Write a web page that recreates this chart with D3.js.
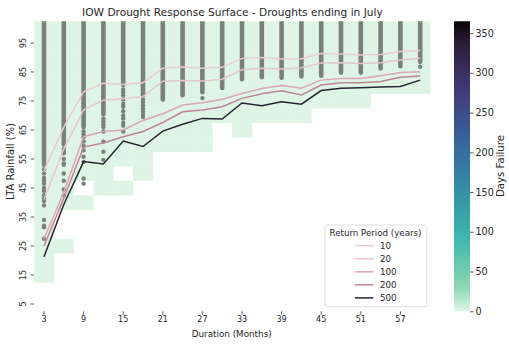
<!DOCTYPE html>
<html><head><meta charset="utf-8">
<script src="https://cdn.jsdelivr.net/npm/d3@7"></script>
<style>
body{margin:0;background:#fff;}
svg text{font-family:"DejaVu Sans",sans-serif;fill:#262626;}
</style>
</head><body>
<svg id="chart" width="509" height="345"></svg>
<script>
// ---------------- data ----------------
const durations = [3,6,9,12,15,18,21,24,27,30,33,36,39,42,45,48,51,54,57,60];
const rainfallRows = [100,95,90,85,80,75,70,65,60,55,50,45,40,35,30,25,20,15,10,5];
const yTickLabels = [5,15,25,35,45,55,65,75,85,95];
const xTickLabels = [3,9,15,21,27,33,39,45,51,57];
const colorbarTicks = [0,50,100,150,200,250,300,350];
const _ = null;
// days failure, rows = rainfallRows (100 -> 5), columns = durations (3 -> 60); null = no data
const daysFailure = [
  [0,0,0,0,0,0,0,0,0,0,0,0,0,0,0,0,0,0,0,0],
  [0,0,0,0,0,0,0,0,0,0,0,0,0,0,0,0,0,0,0,0],
  [0,0,0,0,0,0,0,0,0,0,0,0,0,0,0,0,0,0,0,0],
  [0,0,0,0,0,0,0,0,0,0,0,0,0,0,0,0,0,0,0,0],
  [0,0,0,0,0,0,0,0,0,0,0,0,0,0,0,0,0,0,0,0],
  [0,0,0,0,0,0,0,0,0,0,0,0,0,0,0,0,0,_,_,_],
  [0,0,0,0,0,0,0,0,0,0,0,0,0,0,_,_,_,_,_,_],
  [0,0,0,0,0,0,0,0,0,_,0,_,_,_,_,_,_,_,_,_],
  [0,0,0,0,0,0,0,0,0,_,_,_,_,_,_,_,_,_,_,_],
  [0,0,0,0,0,0,_,_,_,_,_,_,_,_,_,_,_,_,_,_],
  [0,0,0,0,_,0,_,_,_,_,_,_,_,_,_,_,_,_,_,_],
  [0,0,_,0,0,_,_,_,_,_,_,_,_,_,_,_,_,_,_,_],
  [0,0,0,_,_,_,_,_,_,_,_,_,_,_,_,_,_,_,_,_],
  [0,_,_,_,_,_,_,_,_,_,_,_,_,_,_,_,_,_,_,_],
  [0,_,_,_,_,_,_,_,_,_,_,_,_,_,_,_,_,_,_,_],
  [0,0,_,_,_,_,_,_,_,_,_,_,_,_,_,_,_,_,_,_],
  [0,_,_,_,_,_,_,_,_,_,_,_,_,_,_,_,_,_,_,_],
  [0,_,_,_,_,_,_,_,_,_,_,_,_,_,_,_,_,_,_,_],
  [_,_,_,_,_,_,_,_,_,_,_,_,_,_,_,_,_,_,_,_],
  [_,_,_,_,_,_,_,_,_,_,_,_,_,_,_,_,_,_,_,_]
];
// simulated droughts: lowest LTA rainfall (%) of the dense band at each duration
const denseLow = [53,60,66,70.5,80.5,77,75.5,77,78,79.5,82.5,83.2,83,83.5,83.7,84.8,84.8,86.2,87,88.5];
// individual simulated droughts below the dense band
const sparsePoints = [
  [51.5,50,48.5,47.5,46.5,45,44,42.5,41.5,40.5,39,34,32,31.5,27.5],
  [58.5,57.5,57,55,53.5,53,50,47.5,44.5,42.5],
  [64.5,63.5,62.5,61,59.5,58,55.8,54,48.3,46.5],
  [69,68,67,66,64.5,61,57.5,54.7],
  [79,78,77,75.5,74,73,71.5,70,69,67.5,66.5,64.5],
  [75.5,74.5,73.5,72.5,71.5,70.5,69.5],
  [],[],[76],[],[],[],[],[],[],[],[],[],[],[86.8]
];
const returnPeriods = [10,20,100,200,500];
const rp10  = [51,66,78.2,81.1,80.7,81.3,86.3,86.7,86.3,86.6,89.7,90.0,89.5,89.6,91.4,91.2,90.9,91.0,92.1,92.4];
const rp20  = [41,58.5,72.0,75.3,75.8,76.5,81.8,82.1,81.9,82.5,85.8,86.3,86.0,86.5,88.1,88.2,87.9,88.2,89.1,89.7];
const rp100 = [27.5,43.5,62.7,64.5,65.0,68.3,70.6,73.6,74.4,75.6,77.6,79.3,80.3,79.4,82.2,82.8,82.8,83.7,84.8,85.1];
const rp200 = [25,41.5,59.1,60.5,62.7,64.5,67.6,71.3,71.9,73.0,75.9,77.5,78.5,77.1,80.5,81.3,81.3,81.7,83.2,83.6];
const rp500 = [21.3,39.3,54.1,53.3,61.2,59.3,64.6,67.0,69.0,68.8,74.3,73.4,74.7,73.9,78.6,79.4,79.6,79.8,80.0,82.2];
const rpSeries = [rp10, rp20, rp100, rp200, rp500];

// ---------------- styles ----------------
const rpColors = ["#ebcccd","#e8c5c9","#dba6b0","#c08494","#252330"];
const makoStops = ["#0B0405","#2E1E3B","#413D7B","#37659E","#348FA7","#40B7AD","#8AD9B1","#DEF5E5"];
const makoPos = [0,0.083,0.25,0.417,0.583,0.75,0.917,1];
const mako = d3.scaleLinear().domain(makoPos).range(makoStops).interpolate(d3.interpolateRgb);
const vmax = 365;
const color = v => mako(1 - v / vmax); // mako reversed

const svg = d3.select("#chart");
const pLeft = 34.1, pRight = 430.1, pTop = 21.25, pBottom = 311.25;

const x = d3.scaleBand().domain(durations).range([pLeft, pRight]);
const xc = d => x(d) + x.bandwidth() / 2;
const yBand = d3.scaleBand().domain(rainfallRows).range([pTop, pBottom]);
const y = d3.scaleLinear().domain([2.5, 102.5]).range([pBottom, pTop]);

const defs = svg.append("defs");
defs.append("clipPath").attr("id","plotclip")
  .append("rect").attr("x", pLeft).attr("y", pTop).attr("width", pRight - pLeft).attr("height", pBottom - pTop);

// heatmap cells
const cells = [];
rainfallRows.forEach((r, i) => durations.forEach((d, j) => {
  const v = daysFailure[i][j];
  if (v !== null) cells.push({r, d, v});
}));
svg.append("g").selectAll("rect").data(cells).join("rect")
  .attr("x", c => x(c.d)).attr("y", c => yBand(c.r))
  .attr("width", x.bandwidth() + 0.3).attr("height", yBand.bandwidth() + 0.3)
  .attr("fill", c => color(c.v));

// simulated drought points
const dotColor = "#7b807c";
const gDots = svg.append("g").attr("clip-path", "url(#plotclip)");
gDots.selectAll("line.band").data(durations).join("line").attr("class","band")
  .attr("x1", xc).attr("x2", xc)
  .attr("y1", (d, i) => y(denseLow[i])).attr("y2", pTop - 5)
  .attr("stroke", dotColor).attr("stroke-width", 4.6).attr("stroke-linecap", "round");
const sparse = [];
durations.forEach((d, i) => sparsePoints[i].forEach(v => sparse.push({d, v})));
gDots.selectAll("circle").data(sparse).join("circle")
  .attr("cx", p => xc(p.d)).attr("cy", p => y(p.v)).attr("r", 2.2)
  .attr("fill", dotColor);

// return period lines
const line = d3.line().x((v, i) => xc(durations[i])).y(v => y(v));
svg.append("g").selectAll("path").data(rpSeries).join("path")
  .attr("d", line).attr("fill", "none")
  .attr("stroke", (s, i) => rpColors[i]).attr("stroke-width", 1.5);

// text fitting helper
const fitText = (sel, w) => {
  sel.each(function() {
    const len = this.getComputedTextLength();
    const fs = parseFloat(d3.select(this).style("font-size"));
    if (len > 0) d3.select(this).style("font-size", (fs * w / len) + "px");
  });
};

// axes
const xAxis = svg.append("g").attr("transform", `translate(0,${pBottom})`)
  .call(d3.axisBottom(x).tickValues(xTickLabels).tickSize(3.5).tickPadding(2));
xAxis.select(".domain").remove();
xAxis.selectAll("line").attr("stroke", "#333").attr("stroke-width", 0.8);
xAxis.attr("font-family", null).attr("font-size", null);
xAxis.selectAll("text").style("font-size", "8px").attr("fill", "#262626");

const yAxis = svg.append("g").attr("transform", `translate(${pLeft},0)`)
  .call(d3.axisLeft(yBand).tickValues(yTickLabels).tickSize(3.5));
yAxis.select(".domain").remove();
yAxis.attr("font-family", null).attr("font-size", null);
yAxis.selectAll("line").attr("stroke", "#333").attr("stroke-width", 0.8);
yAxis.selectAll("text").style("font-size", "8px").attr("fill", "#262626")
  .attr("x", 0).attr("dy", "0.35em").attr("text-anchor", "middle")
  .attr("transform", "translate(-11,0) rotate(-90)");

// titles
svg.append("text").attr("x", 232.4).attr("y", 16).attr("text-anchor", "middle")
  .style("font-size", "11px").text("IOW Drought Response Surface - Droughts ending in July")
  .call(fitText, 301);
svg.append("text").attr("x", 231.7).attr("y", 336.5).attr("text-anchor", "middle")
  .style("font-size", "9px").text("Duration (Months)").call(fitText, 80);
svg.append("text").attr("transform", "translate(13.5,161.5) rotate(-90)").attr("text-anchor", "middle")
  .style("font-size", "9px").text("LTA Rainfall (%)").call(fitText, 77);

// colorbar
const cbX = 454, cbW = 16;
const cScale = d3.scaleLinear().domain([0, vmax]).range([pBottom, pTop]);
const grad = defs.append("linearGradient").attr("id", "cbgrad")
  .attr("x1", 0).attr("y1", 1).attr("x2", 0).attr("y2", 0);
d3.range(0, 1.0001, 0.02).forEach(t => grad.append("stop").attr("offset", t).attr("stop-color", color(t * vmax)));
svg.append("rect").attr("x", cbX).attr("y", pTop).attr("width", cbW).attr("height", pBottom - pTop)
  .attr("fill", "url(#cbgrad)");
const cAxis = svg.append("g").attr("transform", `translate(${cbX + cbW},0)`)
  .call(d3.axisRight(cScale).tickValues(colorbarTicks).tickSize(3.5).tickPadding(2));
cAxis.select(".domain").remove();
cAxis.attr("font-family", null).attr("font-size", null);
cAxis.selectAll("line").attr("stroke", "#333").attr("stroke-width", 0.8);
cAxis.selectAll("text").style("font-size", "9.6px").attr("fill", "#262626");
svg.append("text").attr("transform", "translate(504,166) rotate(-90)").attr("text-anchor", "middle")
  .style("font-size", "9px").text("Days Failure").call(fitText, 62);

// legend
const lg = svg.append("g");
lg.append("rect").attr("x", 325).attr("y", 225).attr("width", 101.7).attr("height", 81.7)
  .attr("rx", 2.5).attr("fill", "#fff").attr("fill-opacity", 0.85).attr("stroke", "#d6d6d6").attr("stroke-width", 0.8);
lg.append("text").attr("x", 375.5).attr("y", 236.3).attr("text-anchor", "middle")
  .style("font-size", "8.5px").text("Return Period (years)").call(fitText, 92);
returnPeriods.forEach((rp, i) => {
  const yy = 245.7 + i * 13.05;
  lg.append("line").attr("x1", 355).attr("x2", 373.3).attr("y1", yy).attr("y2", yy)
    .attr("stroke", rpColors[i]).attr("stroke-width", 1.5);
  lg.append("text").attr("x", 380).attr("y", yy).attr("dy", "0.35em")
    .style("font-size", "8.7px").text(rp);
});
</script>
</body></html>
